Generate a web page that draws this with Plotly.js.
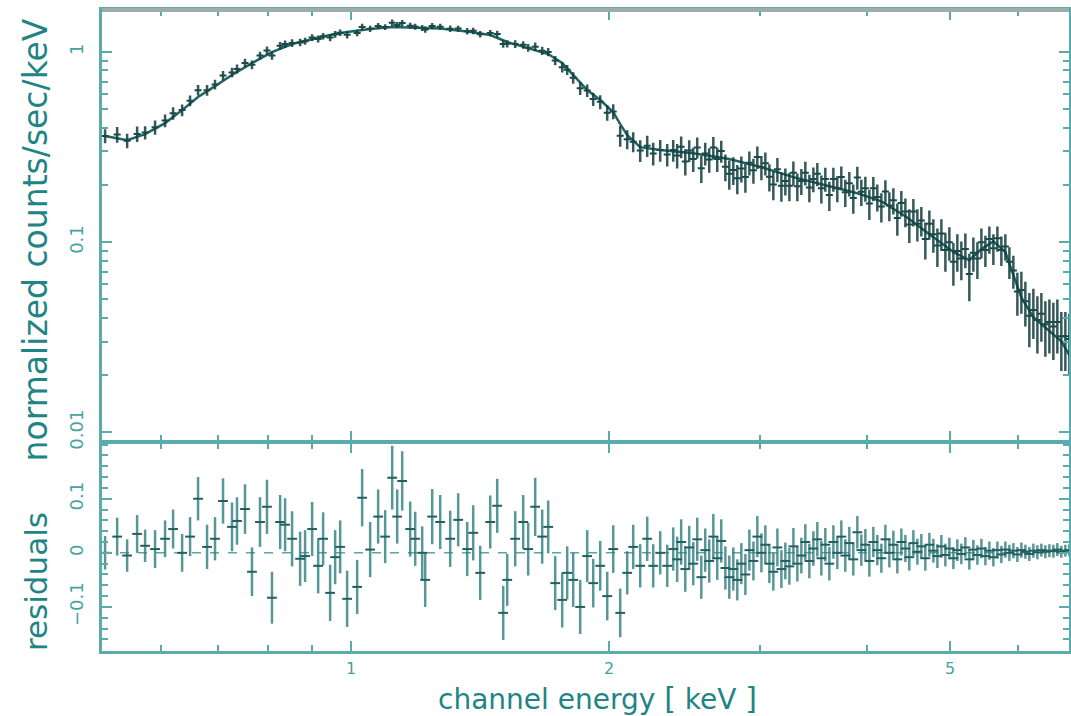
<!DOCTYPE html>
<html>
<head>
<meta charset="utf-8">
<script src="https://cdn.plot.ly/plotly-3.0.1.min.js"></script>
<style>html,body{margin:0;padding:0;background:#fff;}#chart{width:1071px;height:716px;}</style>
</head>
<body>
<div id="chart"></div>
<script>
// Channel energy of each spectral bin [keV]
const energy = [
0.5163,0.5333,0.5478,0.5627,0.5749,0.5905,0.6066,0.6198,0.6350,0.6487,
0.6628,0.6790,0.6937,0.7088,0.7261,0.7359,0.7519,0.7661,0.7828,0.7976,
0.8084,0.8263,0.8374,0.8533,0.8719,0.8836,0.9005,0.9152,0.9275,0.9451,
0.9579,0.9709,0.9893,1.0163,1.0300,1.0524,1.0752,1.0957,1.1166,1.1317,
1.1470,1.1719,1.1878,1.2103,1.2201,1.2433,1.2703,1.3049,1.3332,1.3659,
1.3881,1.4144,1.4530,1.4805,1.5046,1.5209,1.5539,1.5876,1.6090,1.6396,
1.6707,1.6979,1.7302,1.7630,1.7869,1.8159,1.8504,1.8855,1.9162,1.9526,
1.9897,2.0221,2.0604,2.0995,2.1336,2.1741,2.2154,2.2514,2.2941,2.3377,
2.3757,
2.401,2.427,2.454,2.480,2.507,2.534,2.562,2.589,2.617,2.646,
2.674,2.703,2.733,2.762,2.792,2.822,2.853,2.884,2.915,2.947,
2.978,3.011,3.043,3.076,3.109,3.143,3.177,3.211,3.246,3.281,
3.316,3.352,3.388,3.425,3.462,3.499,3.537,3.575,3.614,3.653,
3.692,3.732,3.772,3.813,3.854,3.896,3.938,3.981,4.024,4.067,
4.111,4.156,4.201,4.246,4.292,4.338,4.385,4.433,4.480,4.529,
4.578,4.627,4.677,4.728,4.779,4.831,4.883,4.936,4.989,5.043,
5.097,5.152,5.208,5.264,5.321,5.379,5.437,5.496,5.555,5.615,
5.676,5.737,5.799,5.862,5.925,5.989,6.054,6.119,6.185,6.252,
6.320,6.388,6.457,6.527,6.597,6.668,6.740,6.813,6.887
];

// Normalized counts/sec/keV
const counts = [
0.362,0.368,0.342,0.371,0.377,0.402,0.436,0.477,0.495,0.554,
0.630,0.630,0.675,0.752,0.781,0.815,0.875,0.858,0.959,1.019,
0.959,1.079,1.101,1.115,1.124,1.140,1.192,1.172,1.212,1.192,
1.240,1.265,1.232,1.259,1.356,1.325,1.372,1.353,1.424,1.388,
1.421,1.376,1.359,1.338,1.313,1.372,1.359,1.327,1.328,1.286,
1.293,1.241,1.258,1.243,1.102,1.104,1.101,1.091,1.054,1.067,
1.015,1.000,0.902,0.832,0.806,0.732,0.645,0.628,0.566,0.547,
0.480,0.487,0.363,0.348,0.338,0.304,0.322,0.293,0.305,0.289,
0.305,
0.286,0.318,0.266,0.304,0.274,0.315,0.245,0.293,0.272,0.315,
0.274,0.302,0.249,0.229,0.240,0.217,0.244,0.220,0.262,0.239,
0.281,0.248,0.260,0.221,0.201,0.242,0.198,0.210,0.198,0.232,
0.197,0.210,0.232,0.194,0.215,0.229,0.192,0.215,0.177,0.215,
0.192,0.220,0.183,0.204,0.171,0.219,0.184,0.192,0.160,0.192,
0.173,0.154,0.185,0.156,0.166,0.134,0.161,0.145,0.124,0.145,
0.125,0.130,0.104,0.125,0.110,0.096,0.111,0.091,0.100,0.079,
0.090,0.082,0.092,0.068,0.088,0.082,0.100,0.091,0.104,0.093,
0.105,0.091,0.095,0.079,0.071,0.055,0.056,0.049,0.041,0.044,
0.039,0.042,0.037,0.038,0.036,0.038,0.032,0.032,0.031
];

// 1-sigma errors (same for data and residuals)
const errors = [
0.031,0.035,0.030,0.035,0.030,0.035,0.034,0.036,0.035,0.036,
0.040,0.041,0.040,0.042,0.045,0.044,0.046,0.045,0.046,0.050,
0.048,0.050,0.049,0.051,0.050,0.048,0.050,0.051,0.049,0.052,
0.050,0.049,0.052,0.050,0.053,0.051,0.050,0.049,0.059,0.050,
0.055,0.051,0.050,0.049,0.050,0.051,0.050,0.052,0.049,0.050,
0.051,0.050,0.049,0.050,0.050,0.048,0.051,0.050,0.049,0.054,
0.050,0.049,0.050,0.051,0.049,0.050,0.050,0.048,0.045,0.046,
0.045,0.044,0.045,0.040,0.041,0.040,0.041,0.040,0.040,0.039,
0.040,
0.042,0.042,0.042,0.040,0.040,0.040,0.040,0.040,0.040,0.042,
0.040,0.040,0.040,0.040,0.040,0.038,0.038,0.038,0.038,0.036,
0.038,0.036,0.036,0.036,0.035,0.035,0.035,0.034,0.034,0.034,
0.033,0.033,0.033,0.032,0.032,0.032,0.032,0.031,0.031,0.031,
0.030,0.030,0.030,0.030,0.030,0.030,0.029,0.029,0.029,0.028,
0.028,0.027,0.027,0.027,0.026,0.026,0.025,0.025,0.025,0.024,
0.024,0.023,0.023,0.022,0.022,0.022,0.021,0.021,0.020,0.020,
0.020,0.019,0.019,0.019,0.018,0.018,0.018,0.017,0.017,0.017,
0.016,0.016,0.015,0.015,0.014,0.014,0.014,0.013,0.013,0.013,
0.013,0.012,0.012,0.012,0.012,0.012,0.011,0.011,0.011
];

// Residuals (data - model)
const residuals = [
0.000,0.030,-0.005,0.035,0.013,0.007,0.026,0.044,0.000,0.030,
0.100,0.011,0.026,0.096,0.048,0.059,0.081,-0.035,0.057,0.085,
-0.083,0.057,0.052,0.026,-0.011,-0.006,0.044,-0.024,0.026,-0.074,
-0.008,0.011,-0.085,-0.063,0.102,0.006,0.067,0.030,0.139,0.067,
0.133,0.044,0.026,0.000,-0.050,0.067,0.057,0.026,0.061,0.007,
0.037,-0.037,0.057,0.087,-0.111,-0.050,0.026,0.057,0.007,0.085,
0.030,0.048,-0.056,-0.087,-0.037,-0.050,-0.100,-0.006,-0.056,-0.024,
-0.080,0.007,-0.111,-0.037,0.011,-0.024,0.026,-0.024,0.000,-0.024,
0.007,
-0.012,0.020,-0.030,0.010,-0.020,0.025,-0.045,0.005,-0.015,0.030,
-0.010,0.022,-0.028,-0.045,-0.030,-0.050,-0.020,-0.040,0.005,-0.015,
0.030,0.000,0.015,-0.020,-0.035,0.010,-0.030,-0.015,-0.025,0.012,
-0.020,-0.005,0.020,-0.015,0.008,0.025,-0.010,0.015,-0.020,0.020,
0.000,0.030,-0.005,0.018,-0.012,0.038,0.005,0.015,-0.015,0.020,
0.005,-0.010,0.025,0.000,0.015,-0.012,0.020,0.008,-0.008,0.018,
0.002,0.012,-0.010,0.015,0.004,-0.006,0.012,-0.004,0.008,-0.010,
0.005,-0.002,0.010,-0.012,0.006,-0.004,0.008,-0.006,0.004,-0.008,
0.005,-0.003,0.006,0.000,0.004,-0.003,0.005,0.002,-0.002,0.004,
0.001,0.005,0.002,0.004,0.003,0.006,0.002,0.004,0.005
];

// Folded model curve
const modelEnergy = [
0.5163,0.5478,0.5749,0.6066,0.6350,0.6628,0.6937,0.7261,0.7661,0.8084,
0.8533,0.9005,0.9451,0.9893,1.0524,1.1166,1.1878,1.2703,1.3659,1.4530,
1.5209,1.6090,1.6979,1.7630,1.8159,1.8855,1.9526,2.0221,2.0604,2.0995,
2.1741,2.2941,2.507,2.762,3.011,3.281,3.575,3.896,4.156,4.433,
4.728,5.043,5.264,5.437,5.615,5.799,5.925,6.054,6.252,6.527,
6.740,6.887
];
const modelCounts = [
0.362,0.344,0.370,0.423,0.495,0.580,0.662,0.757,0.875,1.000,
1.102,1.170,1.229,1.274,1.322,1.354,1.346,1.330,1.282,1.229,
1.129,1.050,0.976,0.875,0.757,0.631,0.559,0.483,0.418,0.366,
0.316,0.305,0.294,0.274,0.248,0.220,0.1995,0.181,0.164,0.137,
0.110,0.0888,0.0804,0.092,0.101,0.0888,0.0671,0.0513,0.0403,0.0340,
0.0301,0.0255
];

// Axis ticks
const xTickVals = [1, 2, 5];
const xTickText = ['1', '2', '5'];
const xMinorVals = [0.6, 0.7, 0.8, 0.9, 3, 4, 6];
const yTopTickVals = [0.01, 0.1, 1];
const yTopTickText = ['0.01', '0.1', '1'];
const yTopMinorVals = [0.02,0.03,0.04,0.05,0.06,0.07,0.08,0.09,0.2,0.3,0.4,0.5,0.6,0.7,0.8,0.9];
const yResTickVals = [-0.1, 0, 0.1];
const yResTickText = ['\u22120.1', '0', '0.1'];

const teal = '#5aabab';
const textTeal = '#1f8484';
const tickTeal = '#46a3a3';
const font = 'DejaVu Sans, Arial, sans-serif';

const traces = [
  {
    x: modelEnergy, y: modelCounts, xaxis: 'x', yaxis: 'y',
    mode: 'lines', line: {color: '#1f6565', width: 2.5}, hoverinfo: 'skip'
  },
  {
    x: energy, y: counts, xaxis: 'x', yaxis: 'y', mode: 'markers',
    marker: {symbol: 'line-ew', size: 5, line: {width: 2, color: '#184a4a'}},
    error_y: {type: 'data', array: errors, visible: true, color: 'rgba(18,60,60,0.85)', thickness: 2.5, width: 0}
  },
  {
    x: energy, y: residuals, xaxis: 'x2', yaxis: 'y2', mode: 'markers',
    marker: {symbol: 'line-ew', size: 7, line: {width: 2, color: '#235f5f'}},
    error_y: {type: 'data', array: errors, visible: true, color: 'rgba(45,125,125,0.8)', thickness: 2.5, width: 0}
  }
];

const axisCommon = {
  showline: true, linecolor: teal, linewidth: 3, mirror: 'ticks',
  ticks: 'inside', tickcolor: teal, tickwidth: 2, ticklen: 10,
  showgrid: false, zeroline: false,
  tickfont: {family: font, size: 16, color: tickTeal}
};

const layout = {
  width: 1071, height: 716,
  margin: {l: 102, r: 2, t: 10, b: 65},
  paper_bgcolor: '#ffffff', plot_bgcolor: '#ffffff',
  showlegend: false,
  xaxis: Object.assign({}, axisCommon, {
    type: 'log', range: [-0.2907, 0.8376], domain: [0, 1], anchor: 'y',
    tickmode: 'array', tickvals: xTickVals, ticktext: xTickText, showticklabels: false,
    minor: {tickmode: 'array', tickvals: xMinorVals, ticks: 'inside', ticklen: 6, tickwidth: 2, tickcolor: teal}
  }),
  xaxis2: Object.assign({}, axisCommon, {
    type: 'log', range: [-0.2907, 0.8376], domain: [0, 1], anchor: 'y2', matches: 'x',
    tickmode: 'array', tickvals: xTickVals, ticktext: xTickText, showticklabels: true,
    ticklabelstandoff: 1,
    minor: {tickmode: 'array', tickvals: xMinorVals, ticks: 'inside', ticklen: 6, tickwidth: 2, tickcolor: teal}
  }),
  yaxis: Object.assign({}, axisCommon, {
    type: 'log', range: [-2.0474, 0.2211], domain: [0.327, 1], anchor: 'x',
    tickmode: 'array', tickvals: yTopTickVals, ticktext: yTopTickText, tickangle: -90,
    ticklabelstandoff: 9, tickfont: {family: font, size: 18, color: tickTeal},
    minor: {tickmode: 'array', tickvals: yTopMinorVals, ticks: 'inside', ticklen: 6, tickwidth: 2, tickcolor: teal}
  }),
  yaxis2: Object.assign({}, axisCommon, {
    range: [-0.1815, 0.2037], domain: [0, 0.325], anchor: 'x2',
    tickmode: 'array', tickvals: yResTickVals, ticktext: yResTickText, tickangle: -90,
    ticklabelstandoff: 9, tickfont: {family: font, size: 18, color: tickTeal},
    minor: {tickmode: 'linear', tick0: 0, dtick: 0.02, ticks: 'inside', ticklen: 6, tickwidth: 2, tickcolor: teal}
  }),
  shapes: [
    {type: 'line', xref: 'paper', x0: 0, x1: 1, yref: 'y2', y0: 0, y1: 0,
     line: {color: '#5aa6a6', width: 1.5, dash: 'dash'}, layer: 'below'},
    {type: 'line', xref: 'paper', x0: 0, x1: 1, yref: 'paper', y0: 1, y1: 1,
     line: {color: '#a3aaaa', width: 4}}
  ],
  annotations: [
    {text: 'normalized counts/sec/keV', xref: 'paper', yref: 'paper',
     x: -0.069, y: 0.641, xanchor: 'center', yanchor: 'middle', textangle: -90,
     showarrow: false, font: {family: font, size: 33, color: textTeal}},
    {text: 'residuals', xref: 'paper', yref: 'paper',
     x: -0.069, y: 0.108, xanchor: 'center', yanchor: 'middle', textangle: -90,
     showarrow: false, font: {family: font, size: 31, color: textTeal}},
    {text: 'channel energy <span style="font-size:30px">[</span> keV <span style="font-size:30px">]</span>',
     xref: 'paper', yref: 'paper', x: 0.512, y: -0.0745, xanchor: 'center', yanchor: 'middle',
     showarrow: false, font: {family: font, size: 28, color: textTeal}}
  ]
};

Plotly.newPlot('chart', traces, layout, {staticPlot: true, displayModeBar: false});
</script>
</body>
</html>
